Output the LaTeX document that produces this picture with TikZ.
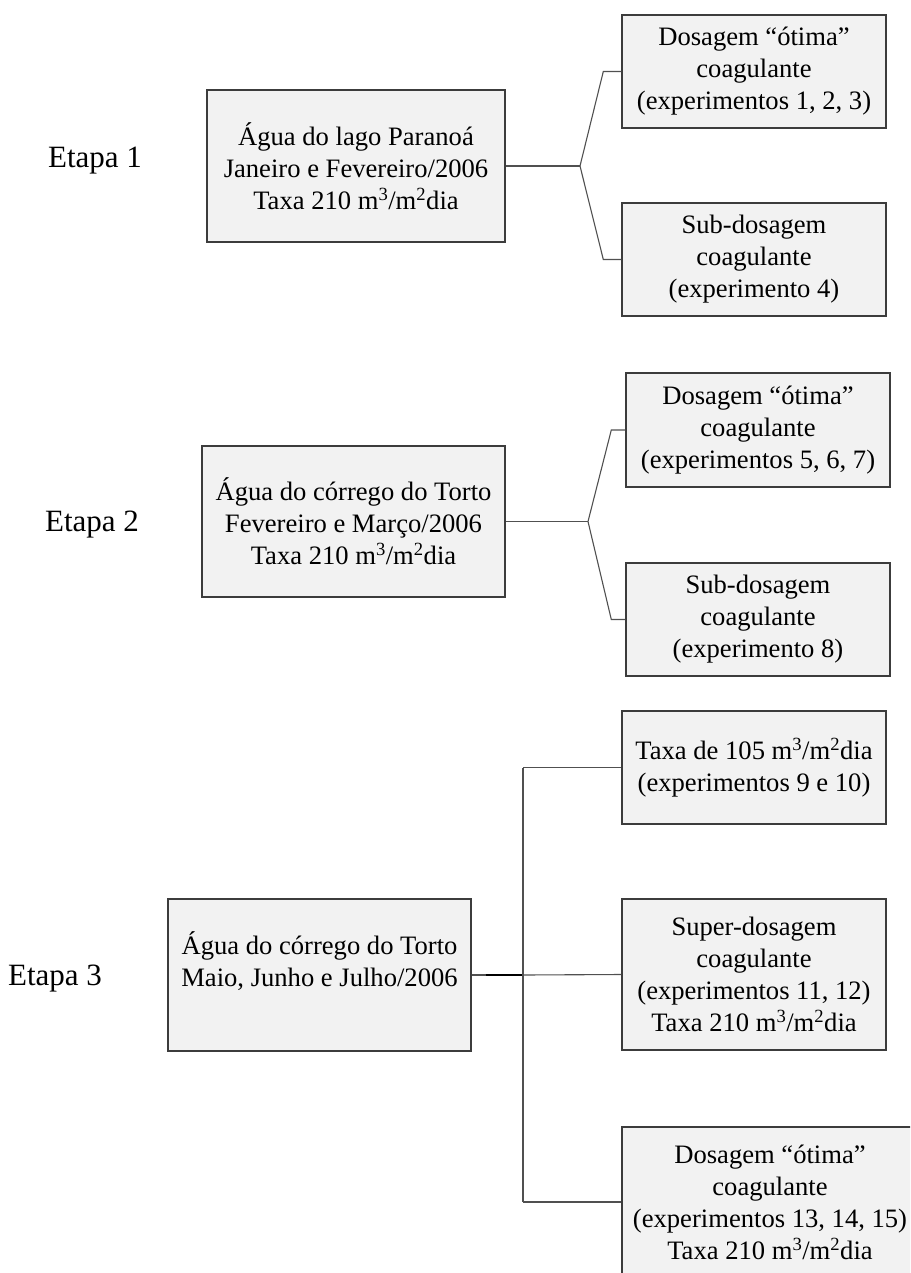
\documentclass[tikz,border=0pt]{standalone}
\usepackage{fontspec}
\setmainfont{Liberation Serif}
\definecolor{boxfill}{HTML}{F2F2F2}
\definecolor{boxedge}{HTML}{3C3C3C}
\definecolor{connedge}{HTML}{505050}
\newcommand\boxfont{\fontsize{26.6}{32}\selectfont}
\newcommand\etapafont{\fontsize{31}{37}\selectfont}
\tikzset{
  stagebox/.style={draw=boxedge, line width=1.4pt, fill=boxfill, inner sep=0pt,
    align=center, font=\boxfont},
  mainbox/.style={stagebox, minimum width=300pt, minimum height=152pt},
  subbox/.style={stagebox, minimum width=264pt, minimum height=113pt},
  conn/.style={draw=connedge, line width=1.1pt},
  thickconn/.style={draw=black, line width=2.4pt},
  etapa/.style={font=\etapafont, anchor=base, inner sep=0pt}
}
\begin{document}
\begin{tikzpicture}[x=1pt,y=-1pt]
\useasboundingbox (0,0) rectangle (910,1273);
\clip (0,0) rectangle (910,1273);

% Etapa labels
\node[etapa] (e1) at (95,168) {Etapa 1};
\node[etapa] (e2) at (92,531) {Etapa 2};
\node[etapa] (e3) at (55,985) {Etapa 3};

% Stage 1
\node[mainbox, minimum width=298pt] (m1) at (356,166)
  {Água do lago Paranoá\\Janeiro e Fevereiro/2006\\Taxa 210 m\textsuperscript{3}/m\textsuperscript{2}dia};
\node[subbox] (a1) at (754,71.5)
  {Dosagem “ótima”\\coagulante\\(experimentos 1, 2, 3)};
\node[subbox] (b1) at (754,259.5)
  {Sub-dosagem\\coagulante\\(experimento 4)};
\coordinate (f1) at (580,166);
\draw[conn] (m1.east) -- (f1);
\draw[conn] (f1) -- ([xshift=-18pt]a1.west) -- (a1.west);
\draw[conn] (f1) -- ([xshift=-18pt]b1.west) -- (b1.west);

% Stage 2
\node[mainbox, minimum width=303pt, minimum height=151pt] (m2) at (353.5,521.5)
  {Água do córrego do Torto\\Fevereiro e Março/2006\\Taxa 210 m\textsuperscript{3}/m\textsuperscript{2}dia};
\node[subbox, minimum height=114pt] (a2) at (758,430)
  {Dosagem “ótima”\\coagulante\\(experimentos 5, 6, 7)};
\node[subbox] (b2) at (758,619.5)
  {Sub-dosagem\\coagulante\\(experimento 8)};
\coordinate (f2) at (588,521.5);
\draw[conn] (m2.east) -- (f2);
\draw[conn] (f2) -- ([xshift=-14pt]a2.west) -- (a2.west);
\draw[conn] (f2) -- ([xshift=-14pt]b2.west) -- (b2.west);

% Stage 3
\node[mainbox, minimum width=303pt] (m3) at (319.5,975)
  {Água do córrego do Torto\\Maio, Junho e Julho/2006\\\mbox{}};
\node[subbox] (a3) at (754,767.5)
  {Taxa de 105 m\textsuperscript{3}/m\textsuperscript{2}dia\\(experimentos 9 e 10)};
\node[subbox, minimum height=151pt] (b3) at (754,974.5)
  {Super-dosagem\\coagulante\\(experimentos 11, 12)\\Taxa 210 m\textsuperscript{3}/m\textsuperscript{2}dia};
\node[stagebox, minimum width=296pt, minimum height=150pt] (c3) at (770,1202)
  {Dosagem “ótima”\\coagulante\\(experimentos 13, 14, 15)\\Taxa 210 m\textsuperscript{3}/m\textsuperscript{2}dia};
\coordinate (j3) at (523,975);
\coordinate (t3) at (523,767.5);
\coordinate (u3) at (523,1202);
\draw[conn] (m3.east) -- (j3);
\draw[thickconn] ([xshift=14pt]m3.east) -- (j3);
\draw[conn] (t3) -- (u3);
\draw[conn] (t3) -- (a3.west);
\draw[conn] (j3) -- (b3.west);
\draw[conn] (u3) -- (c3.west);
\end{tikzpicture}
\end{document}
